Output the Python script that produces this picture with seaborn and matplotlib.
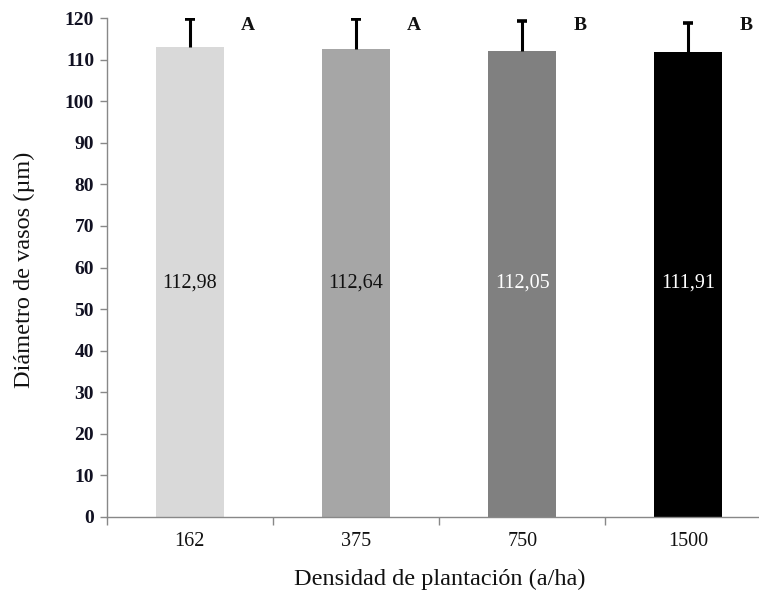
import matplotlib
matplotlib.use("Agg")
import matplotlib.pyplot as plt
import seaborn as sns
import pandas as pd
import numpy as np

densidad = ["162", "375", "750", "1500"]
diametro = [112.98, 112.64, 112.05, 111.91]
error_sup = [6.8, 7.2, 7.2, 7.0]
letras = ["A", "A", "B", "B"]
colores = ["#d9d9d9", "#a6a6a6", "#808080", "#000000"]
color_valor = ["#111111", "#111111", "#ffffff", "#ffffff"]

sns.set_theme(style="white")
plt.rcParams["font.family"] = ["Liberation Serif", "DejaVu Serif"]

df = pd.DataFrame({"densidad": densidad, "diametro": diametro})

fig = plt.figure(figsize=(7.59, 5.96), dpi=100)
ax = fig.add_axes([0.1405, 0.1326, 0.876, 0.837])

sns.barplot(data=df, x="densidad", y="diametro", hue="densidad",
            palette=colores, legend=False, errorbar=None, width=0.41,
            edgecolor="none", ax=ax)

# upper-only error bars: stem from bar top plus a cap at the tip
xs = np.arange(len(densidad))
tops = np.array(diametro) + np.array(error_sup)
ax.vlines(xs, diametro, tops, color="black", linewidth=2.2, zorder=3)
ax.plot(xs, tops, linestyle="none", marker="_", markersize=6.5,
        markeredgewidth=2.6, color="black", zorder=3)

for x, v, l, c in zip(xs, diametro, letras, color_valor):
    ax.text(x, 56.3, f"{v:.2f}".replace(".", ","), ha="center", va="center",
            fontsize=14.5, color=c)
    ax.text(x + 0.35, 118.3, l, ha="center", va="center", fontsize=14,
            fontweight="bold", color="#111111")

ax.set_ylim(0, 120)
ax.set_xlim(-0.5, 3.5)
ax.set_yticks(np.arange(0, 121, 10))
ax.tick_params(axis="y", labelsize=14, length=5, width=1, color="#888888",
               direction="out", left=True, pad=4, labelcolor="#111122")
for t in ax.get_yticklabels():
    t.set_fontweight("bold")
ax.tick_params(axis="x", which="major", labelsize=14.5, length=0, pad=11,
               labelcolor="#111111")
ax.set_xticks(np.arange(-0.5, 4.0, 1.0), minor=True)
ax.tick_params(axis="x", which="minor", length=6, width=1, color="#888888",
               bottom=True, direction="out")

for s in ["top", "right"]:
    ax.spines[s].set_visible(False)
for s in ["left", "bottom"]:
    ax.spines[s].set_color("#888888")
    ax.spines[s].set_linewidth(1.0)

ax.set_xlabel("Densidad de plantación (a/ha)", fontsize=17.5, color="#111111")
ax.set_ylabel("Diámetro de vasos (µm)", fontsize=17.5, color="#111111")
ax.xaxis.set_label_coords(0.501, -0.103)
ax.yaxis.set_label_coords(-0.107, 0.495)
ax.grid(False)

fig.savefig("out.png", dpi=100)
